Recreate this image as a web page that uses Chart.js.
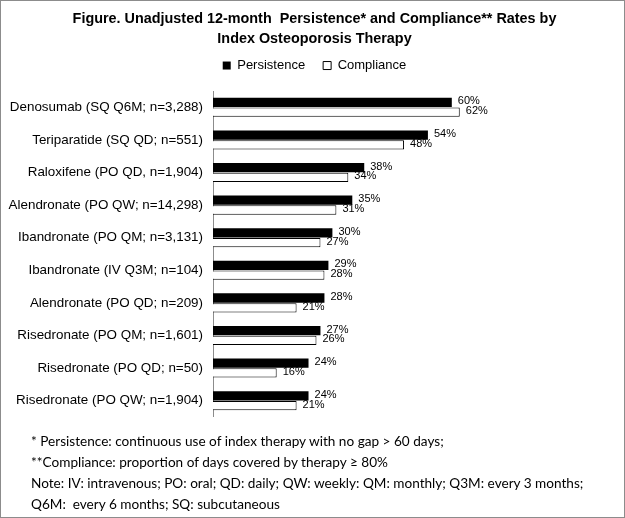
<!DOCTYPE html>
<html>
<head>
<meta charset="utf-8">
<script src="https://cdn.jsdelivr.net/npm/chart.js@4.4.1/dist/chart.umd.min.js"></script>
<style>
  html, body { margin: 0; padding: 0; background: #fff; }
  #frame {
    position: relative; width: 623px; height: 516px;
    border: 1px solid #8c8c8c; overflow: hidden;
  }
  #wrap { position: absolute; left: 0; top: 0; width: 623px; height: 434px; }
  #notes {
    position: absolute; left: 30px; top: 430px;
    font-family: Lato, "Open Sans", sans-serif; font-size: 13.6px;
    line-height: 21px; color: #000; white-space: nowrap;
  }
</style>
</head>
<body>
<div id="frame">
  <div id="wrap"><canvas id="chart"></canvas></div>
  <div id="notes">
    <div>* Persistence: continuous use of index therapy with no gap &gt; 60 days;</div>
    <div>**Compliance: proportion of days covered by therapy ≥ 80%</div>
    <div>Note: IV: intravenous; PO: oral; QD: daily; QW: weekly: QM: monthly; Q3M: every 3 months;</div>
    <div>Q6M:&nbsp; every 6 months; SQ: subcutaneous</div>
  </div>
</div>
<script>
// chart data
const therapies = [
  'Denosumab (SQ Q6M; n=3,288)',
  'Teriparatide (SQ QD; n=551)',
  'Raloxifene (PO QD, n=1,904)',
  'Alendronate (PO QW; n=14,298)',
  'Ibandronate (PO QM; n=3,131)',
  'Ibandronate (IV Q3M; n=104)',
  'Alendronate (PO QD; n=209)',
  'Risedronate (PO QM; n=1,601)',
  'Risedronate (PO QD; n=50)',
  'Risedronate (PO QW; n=1,904)'
];
const persistence = [60, 54, 38, 35, 30, 29, 28, 27, 24, 24];
const compliance = [62, 48, 34, 31, 27, 28, 21, 26, 16, 21];

const font = '"Liberation Sans", Arial, sans-serif';

// percent labels to the right of every bar
const barLabels = {
  id: 'barLabels',
  afterDatasetsDraw(chart) {
    const ctx = chart.ctx;
    ctx.save();
    ctx.font = '11px ' + font;
    ctx.fillStyle = '#000';
    ctx.textBaseline = 'middle';
    chart.data.datasets.forEach((ds, i) => {
      chart.getDatasetMeta(i).data.forEach((bar, j) => {
        ctx.fillText(ds.data[j] + '%', bar.x + 6, bar.y - 1);
      });
    });
    ctx.restore();
  }
};

// centre title and legend on the whole picture, not on the padded box
const centreHeader = {
  id: 'centreHeader',
  afterLayout(chart) {
    [chart.titleBlock, chart.legend].forEach(b => {
      if (b) { b.left += 17; }
    });
  }
};

new Chart(document.getElementById('chart'), {
  type: 'bar',
  data: {
    labels: therapies,
    datasets: [
      {
        label: 'Persistence',
        data: persistence,
        backgroundColor: '#000',
        borderColor: '#000',
        borderWidth: 0
      },
      {
        label: 'Compliance',
        data: compliance,
        backgroundColor: '#fff',
        borderColor: '#000',
        borderWidth: 1
      }
    ]
  },
  options: {
    indexAxis: 'y',
    responsive: true,
    maintainAspectRatio: false,
    animation: false,
    categoryPercentage: 0.6,
    barPercentage: 0.95,
    layout: { padding: { left: 0, right: 13, top: 0, bottom: 8 } },
    scales: {
      x: {
        position: 'top',
        min: 0,
        max: 100,
        ticks: { display: false },
        grid: { display: false },
        border: { display: false },
        afterFit(s) { s.height = 9; }
      },
      y: {
        grid: { display: false, drawTicks: false },
        border: { display: true, color: '#8c8c8c', width: 1 },
        ticks: { color: '#000', padding: 10, font: { family: font, size: 13.4 } },
        afterFit(s) { s.width = 212; }
      }
    },
    plugins: {
      title: {
        display: true,
        text: ['Figure. Unadjusted 12-month  Persistence* and Compliance** Rates by',
               'Index Osteoporosis Therapy'],
        color: '#000',
        font: { family: font, size: 14.4, weight: 'bold', lineHeight: 1.39 },
        padding: { top: 8, bottom: -8 }
      },
      legend: {
        position: 'top',
        labels: {
          color: '#000',
          boxWidth: 8,
          boxHeight: 8,
          padding: 18,
          font: { family: font, size: 13 }
        }
      },
      tooltip: { enabled: false }
    }
  },
  plugins: [barLabels, centreHeader]
});
</script>
</body>
</html>
